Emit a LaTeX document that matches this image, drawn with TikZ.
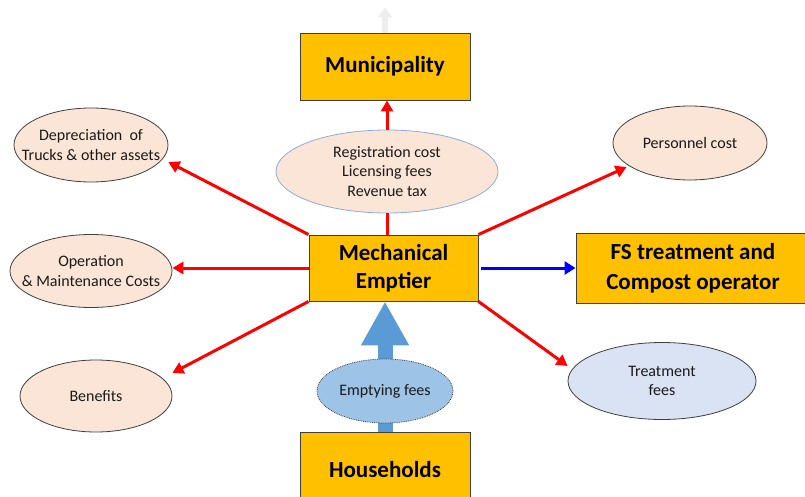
\documentclass[tikz,border=0pt]{standalone}
\usepackage{fontspec}
\setmainfont{Carlito}
\usetikzlibrary{arrows.meta,shapes.geometric}

\definecolor{gold}{HTML}{FFC000}
\definecolor{edge}{HTML}{3F3F3F}
\definecolor{beige}{HTML}{FBE5D6}
\definecolor{paleblue}{HTML}{DAE3F3}
\definecolor{skyfill}{HTML}{9DC3E6}
\definecolor{softline}{HTML}{8FAADC}
\definecolor{flowblue}{HTML}{5B9BD5}
\definecolor{ghost}{HTML}{EEEEEE}
\definecolor{ink}{HTML}{1A1A1A}

\begin{document}
\begin{tikzpicture}[x=1pt,y=-1pt,
  box/.style={rectangle, draw=edge, fill=gold, line width=0.9pt, align=center,
    inner sep=0pt, font=\bfseries\fontsize{23}{28}\selectfont},
  cost/.style={ellipse, draw=edge, fill=beige, line width=0.8pt, inner sep=0pt},
  txt/.style={align=center, inner sep=0pt, text=ink, font=\fontsize{16}{19.5}\selectfont},
  money/.style={draw=red, line width=3pt, -{Triangle[length=11pt,width=12pt]}},
]
\useasboundingbox (0,0) rectangle (805,497);

% actors
\node[box, minimum width=170pt, minimum height=67pt] (mun) at (385,66.5) {Municipality};
\node[box, minimum width=169pt, minimum height=66pt] (me) at (393.5,268) {Mechanical\\Emptier};
\node[box, minimum width=234pt, minimum height=70pt, font=\bfseries\fontsize{23}{30}\selectfont]
  (fs) at (693,268) {FS treatment and\\Compost operator};
\node[box, minimum width=170pt, minimum height=75pt] (hh) at (385,469.5) {Households};

% households pay the emptier
\coordinate (metop) at (hh.north |- me.south);
\draw[flowblue, line width=15pt, -{Triangle[width=45pt,length=44pt]}] (hh.north) -- (metop);

% cost and revenue ellipses (fixed outlines, text set on top)
\node[cost, draw=softline, minimum width=222pt, minimum height=83pt,
  label={[txt]center:Registration cost\\Licensing fees\\Revenue tax}] (regs) at (387,171.5) {};
\node[cost, minimum width=154pt, minimum height=74pt,
  label={[txt]center:Depreciation~ of\\Trucks \& other assets}] (dep) at (91,145) {};
\node[cost, minimum width=162pt, minimum height=73pt,
  label={[txt]center:Operation\\\& Maintenance Costs}] (om) at (91,271) {};
\node[cost, minimum width=152pt, minimum height=72pt,
  label={[txt]center:Benefits}] (ben) at (96,396) {};
\node[cost, minimum width=154pt, minimum height=74pt,
  label={[txt]center:Personnel cost}] (per) at (690,143) {};
\node[cost, fill=paleblue, minimum width=188pt, minimum height=77pt,
  label={[txt]center:Treatment\\fees}] (trf) at (662,381) {};
\node[cost, fill=skyfill, densely dotted, minimum width=136pt, minimum height=64pt,
  label={[txt]center:Emptying fees}] (emp) at (385,391) {};

% faint arrow leaving the municipality
\coordinate (up) at ([yshift=25pt]mun.north);
\draw[ghost, line width=6pt, -{Triangle[length=10pt,width=14pt]}] (mun.north) -- (up);

% money flows
\draw[money] (regs.north) -- (regs.north |- mun.south);
\draw[draw=red, line width=3pt] (regs.south) -- (regs.south |- me.north);
\draw[money] (me.north west) -- ([yshift=-17pt]dep.east);
\draw[money] (me.west) -- (me.west -| om.east);
\draw[money] (me.south west) -- ([yshift=23pt]ben.east);
\draw[money] (me.north east) -- ([shift={(14pt,-24pt)}]per.west);
\draw[money] (me.south east) -- ([yshift=15pt]trf.west);
\draw[blue, line width=3pt, shorten <=3pt, -{Triangle[length=11pt,width=13pt]}] (me.east) -- (fs.west);
\end{tikzpicture}
\end{document}
